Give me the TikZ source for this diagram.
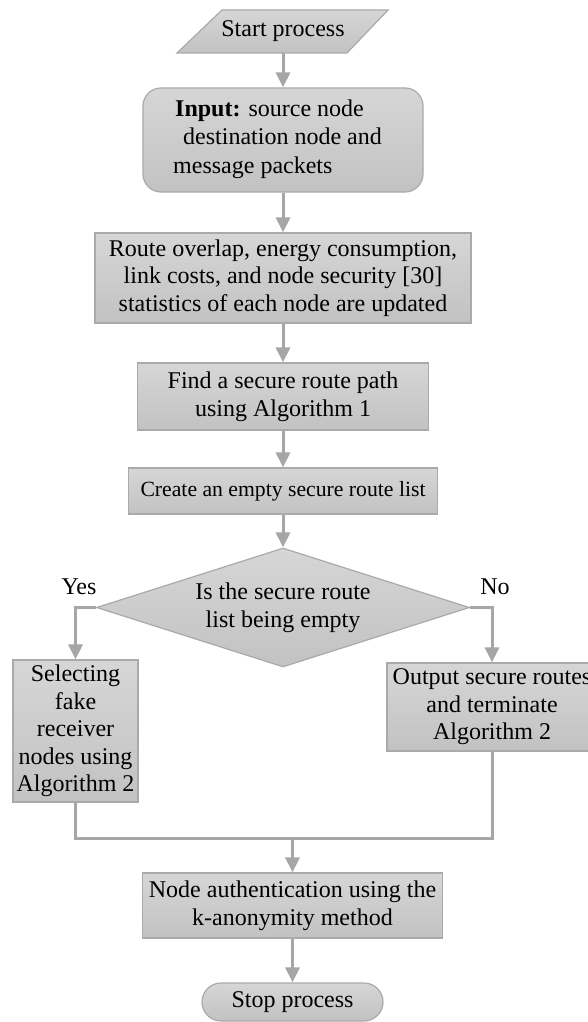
\documentclass[tikz,border=0pt]{standalone}
\usepackage{fontspec}
\setmainfont{Liberation Serif}
\usetikzlibrary{arrows.meta,shapes.geometric}
\definecolor{edgec}{RGB}{170,170,170}
\definecolor{linec}{RGB}{166,166,166}
\definecolor{ftop}{RGB}{214,214,214}
\definecolor{fbot}{RGB}{194,194,194}
\begin{document}
\begin{tikzpicture}[x=1pt,y=-1pt,
  box/.style={draw=edgec, line width=1.2pt, top color=ftop, bottom color=fbot,
    inner sep=0pt, align=center, font=\fontsize{24}{27.6}\selectfont},
  txt/.style={inner sep=0pt, font=\fontsize{24}{27.6}\selectfont},
  conn/.style={draw=linec, line width=3pt},
  arr/.style={conn, -{Triangle[width=14pt,length=15pt]}}]
\clip (0,0) rectangle (588,1022);
\fill[white] (0,0) rectangle (588,1022);

% start parallelogram
\path[draw=edgec, line width=1.2pt, top color=ftop, bottom color=fbot]
  (222,10) -- (388,10) -- (347,53) -- (177,53) -- cycle;
\node[txt, minimum height=43pt] (start) at (283,31.5) {Start process};

% input
\node[box, minimum width=280pt, minimum height=104pt, rounded corners=18pt] (input) at (283,140) {};
\node[txt, align=left, anchor=west, font=\fontsize{24}{28.5}\selectfont] (inputtext) at (173,139)
  {\hspace*{2pt}\textbf{Input:} source node\\\hspace*{10pt}destination node and\\message packets};

\node[box, minimum width=376pt, minimum height=90pt] (route) at (283,278)
  {Route overlap, energy consumption,\\link costs, and node security [30]\\statistics of each node are updated};

\node[box, minimum width=291pt, minimum height=67pt] (find) at (283,396.5)
  {Find a secure route path\\using Algorithm 1};

\node[box, minimum width=309pt, minimum height=46pt, font=\fontsize{21.7}{25}\selectfont] (create) at (283,491)
  {Create an empty secure route list};

\node[box, diamond, aspect=3.13, minimum width=373pt, minimum height=119pt] (dia) at (283,607.5)
  {Is the secure route\\list being empty};

\node[txt] (yes) at (79,587) {Yes};
\node[txt] (no) at (495,587) {No};

\node[box, minimum width=125pt, minimum height=142pt] (select) at (75.5,731)
  {Selecting\\fake\\receiver\\nodes using\\Algorithm 2};

\node[box, minimum width=210pt, minimum height=88pt] (output) at (492,707)
  {Output secure routes\\and terminate\\Algorithm 2};

\coordinate (m) at (292.5,838);

\node[box, minimum width=300pt, minimum height=65pt] (auth) at (292.5,905.5)
  {Node authentication using the\\k-anonymity method};

\node[box, minimum width=181pt, minimum height=38pt, rounded corners=19pt] (stop) at (292.5,1002)
  {Stop process};

% connectors
\draw[arr] (start) -- (input);
\draw[arr] (input) -- (route);
\draw[arr] (route) -- (find);
\draw[arr] (find) -- (create);
\draw[arr] (create) -- (dia);
\draw[arr] (dia.west) -| (select.north);
\draw[arr] (dia.east) -| (output.north);
\draw[conn] (select.south) |- (m) -| (output.south);
\draw[arr] (m) -- (auth);
\draw[arr] (auth) -- (stop);
\end{tikzpicture}
\end{document}
